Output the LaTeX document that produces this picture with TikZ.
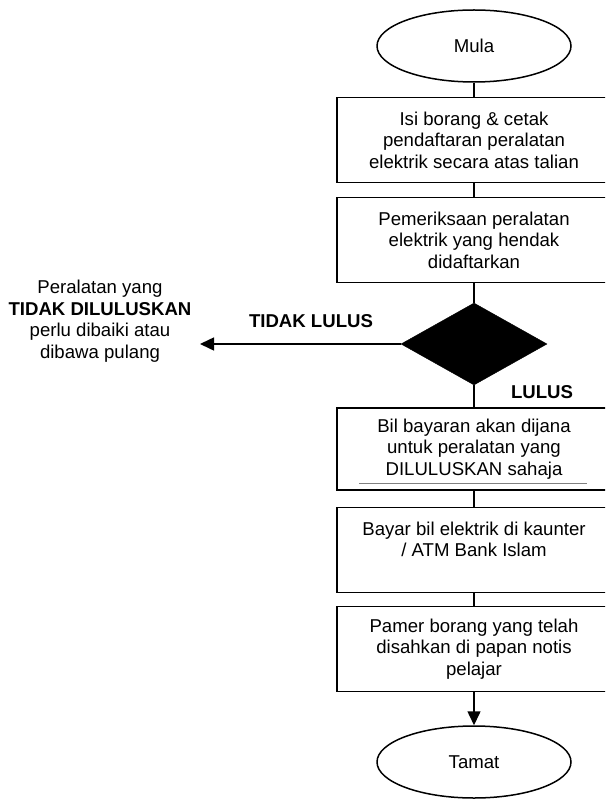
\documentclass[tikz,border=0pt]{standalone}
\usepackage{fontspec}
\setmainfont{Liberation Sans}
\usetikzlibrary{shapes.geometric,arrows.meta}

\tikzset{
  every node/.style={font=\fontsize{18.6}{21.5}\selectfont},
  langkah/.style={draw, rectangle, line width=1.5pt, minimum width=274pt, minimum height=85pt, align=center, inner sep=0pt},
  hujung/.style={draw, ellipse, line width=1.5pt, minimum width=194pt, minimum height=72pt, inner sep=0pt},
  semak/.style={draw, diamond, fill=black, minimum width=146pt, minimum height=82pt, inner sep=0pt},
  garis/.style={line width=1.5pt},
  tebal/.style={font=\fontsize{18.6}{21.5}\selectfont\bfseries}
}

\begin{document}
\begin{tikzpicture}[x=1pt,y=-1pt,>={Triangle[length=14pt,width=13pt]}]
\clip (0,0) rectangle (605,799);
\node[hujung] (mula) at (474,46) {Mula};
\node[langkah] (isi) at (474,140) {Isi borang \& cetak\\pendaftaran peralatan\\elektrik secara atas talian};
\node[langkah] (periksa) at (474,240) {Pemeriksaan peralatan\\elektrik yang hendak\\didaftarkan};
\node[semak] (lulus) at (474,344) {};
\node[langkah, minimum height=82pt] (bil) at (474,449) {Bil bayaran akan dijana\\untuk peralatan yang\\DILULUSKAN sahaja};
\node[langkah] (bayar) at (474,550) {Bayar bil elektrik di kaunter\\/ ATM Bank Islam\\~};
\node[langkah] (pamer) at (474,649) {Pamer borang yang telah\\disahkan di papan notis\\pelajar};
\node[hujung] (tamat) at (474,762) {Tamat};
\node[align=center] (gagal) at (100,321) {Peralatan yang\\\textbf{TIDAK DILULUSKAN}\\perlu dibaiki atau\\dibawa pulang};
\node[tebal] (tlulus) at (311,321) {TIDAK LULUS};
\node[tebal] (ylulus) at (542,392) {LULUS};
\coordinate (kiri) at (200,344);
% garis bawah kelabu dalam kotak bil
\draw[gray, line width=0.8pt] (359,483) -- (587,483);
\draw[garis] (mula) -- (isi);
\draw[garis] (isi) -- (periksa);
\draw[garis] (periksa) -- (lulus);
\draw[garis,->] (lulus.west) -- (kiri);
\draw[garis] (lulus) -- (bil);
\draw[garis] (bil) -- (bayar);
\draw[garis] (bayar) -- (pamer);
\draw[garis,->] (pamer) -- (tamat);
\end{tikzpicture}
\end{document}
